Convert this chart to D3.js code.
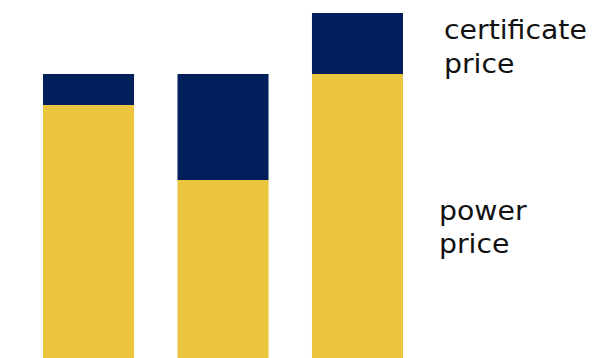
<!DOCTYPE html>
<html><head><meta charset="utf-8">
<script src="https://cdn.jsdelivr.net/npm/d3@7"></script>
<style>html,body{margin:0;padding:0;background:#fff;overflow:hidden}</style>
</head><body>
<svg id="c" width="593" height="358"></svg>
<script>
const categories = ["A", "B", "C"];
const powerPrice = [253, 178, 284];
const certificatePrice = [31, 106, 61];
const seriesNames = ["power price", "certificate price"];
const colors = ["#EAC53D", "#001F5B"];

const svg = d3.select("#c");
const data = categories.map((c, i) => ({cat: c, power: powerPrice[i], cert: certificatePrice[i]}));
const stack = d3.stack().keys(["power", "cert"])(data);

const x = d3.scaleBand().domain(categories).range([43, 403]).paddingInner(0.323).paddingOuter(0);
const y = d3.scaleLinear().domain([0, 345]).range([358, 13]);

svg.selectAll("g.layer").data(stack).join("g").attr("class", "layer")
  .attr("fill", (d, i) => colors[i])
  .selectAll("rect").data(d => d).join("rect")
  .attr("x", d => x(d.data.cat))
  .attr("width", x.bandwidth())
  .attr("y", d => y(d[1]))
  .attr("height", d => y(d[0]) - y(d[1]));

const font = "'DejaVu Sans', sans-serif";
const fs = 27;
function label(lines, x0, y0, dy) {
  const g = svg.append("g").attr("transform", `translate(${x0},0)`);
  const t = g.append("text").attr("font-family", font).attr("font-size", fs).attr("fill", "#111");
  lines.forEach((l, i) => t.append("tspan").attr("x", 0).attr("y", y0 + i * dy).text(l));
  return {g, t};
}
const l1 = label(["certificate", "price"], 444, 39, 34);
const w = l1.t.select("tspan").node().getComputedTextLength();
const sx = 143 / w;
l1.t.attr("transform", `scale(${sx},1)`);
const l2 = label([seriesNames[0].split(" ")[0], "price"], 439, 220, 33);
l2.t.attr("transform", `scale(${sx},1)`);
</script>
</body></html>
